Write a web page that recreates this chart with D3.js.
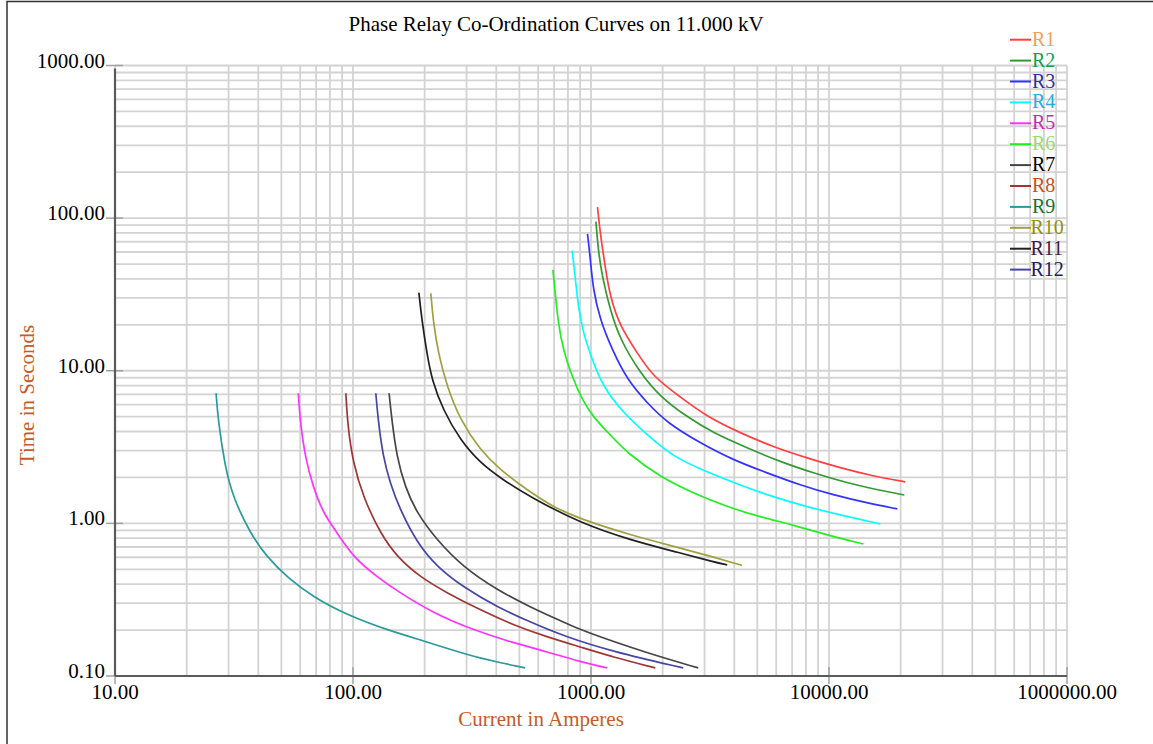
<!DOCTYPE html>
<html>
<head>
<meta charset="utf-8">
<script src="https://cdn.jsdelivr.net/npm/d3@7"></script>
<style>
  body { margin: 0; background: #fff; }
  svg { display: block; font-family: "Liberation Serif", "Times New Roman", serif; }
</style>
</head>
<body>
<svg width="1153" height="744"></svg>
<script>
// relay names, line colours, legend text colours
const relays = ["R1", "R2", "R3", "R4", "R5", "R6", "R7", "R8", "R9", "R10", "R11", "R12"]
const lineColors = ["#ff4040", "#339933", "#3333ff", "#00ffff", "#ff33ff", "#22ee22",
                    "#454545", "#a03535", "#2a9a9a", "#a0a040", "#202020", "#4545a5"]
const textColors = ["#f0a060", "#10a050", "#3030a0", "#20b0e0", "#c030b0", "#a0d870",
                    "#000000", "#c85020", "#207030", "#909010", "#401848", "#202060"]

// axis ticks
const xTicks = [10, 100, 1000, 10000, 100000]
const xTickLabels = ["10.00", "100.00", "1000.00", "10000.00", "1000000.00"]
const yTicks = [0.1, 1, 10, 100, 1000]
const yTickLabels = ["0.10", "1.00", "10.00", "100.00", "1000.00"]

// current (A) and time (s)
const r1I = [1065, 1093, 1147, 1204, 1327, 1564, 1826, 2371, 3079, 4239, 5833, 8104, 11155, 15360, 20930]
const r1T = [117.9, 80.0, 47.9, 30.4, 19.4, 13.08, 9.11, 6.74, 4.98, 3.91, 3.17, 2.68, 2.31, 2.04, 1.87]
const r2I = [1049, 1072, 1115, 1204, 1327, 1610, 1954, 2538, 3263, 4536, 6243, 8590, 11940, 15360, 20730]
const r2T = [94.9, 61.9, 41.2, 25.0, 15.9, 9.67, 6.74, 4.98, 3.91, 3.12, 2.53, 2.14, 1.84, 1.68, 1.535]
const r3I = [966.7, 992, 1021, 1093, 1228, 1420, 1723, 2091, 2877, 3960, 5504, 7574, 10420, 14490, 19370]
const r3T = [78.8, 55.7, 33.8, 21.5, 13.69, 8.70, 6.15, 4.55, 3.36, 2.60, 2.14, 1.78, 1.535, 1.36, 1.243]
const r4I = [833.7, 858.2, 883.5, 927.3, 1012, 1125, 1366, 1723, 2216, 3079, 4239, 5833, 8104, 11155, 16430]
const r4T = [61.2, 41.2, 26.2, 17.69, 11.77, 7.83, 5.29, 3.80, 2.72, 2.17, 1.78, 1.49, 1.281, 1.135, 0.991]
const r5I = [58.9, 59.9, 62.9, 68.0, 74.9, 85.8, 100.1, 126.3, 157.8, 217, 320, 471, 654, 901, 1167]
const r5T = [7.12, 4.76, 2.72, 1.73, 1.17, 0.865, 0.602, 0.445, 0.350, 0.259, 0.200, 0.165, 0.144, 0.124, 0.113]
const r6I = [691.6, 707.2, 728, 764, 833.7, 918.5, 1021, 1204, 1420, 1954, 2689, 3737, 5143, 7077, 9835, 13940]
const r6T = [45.8, 32.3, 20.6, 13.69, 9.11, 6.44, 4.98, 3.80, 2.89, 2.01, 1.582, 1.281, 1.101, 0.976, 0.839, 0.733]
const r7I = [141.8, 145.6, 152.8, 165.6, 185.4, 225.0, 290.2, 403.4, 555, 764, 901, 1723, 2822]
const r7T = [7.12, 4.76, 2.72, 1.73, 1.17, 0.778, 0.518, 0.366, 0.283, 0.226, 0.200, 0.141, 0.113]
const r8I = [93.3, 95.1, 100.1, 110.3, 130.0, 153.2, 191.4, 248.6, 342, 471, 654, 901, 1240, 1862]
const r8T = [7.12, 4.30, 2.49, 1.49, 0.865, 0.602, 0.445, 0.350, 0.271, 0.216, 0.180, 0.155, 0.133, 0.113]
const r9I = [26.6, 27.1, 29.0, 31.3, 36.9, 43.5, 52.8, 68.0, 94.5, 139, 211, 320, 529]
const r9T = [7.12, 4.76, 2.34, 1.49, 0.865, 0.602, 0.445, 0.329, 0.251, 0.200, 0.165, 0.133, 0.113]
const r10I = [212.3, 217, 227.9, 248.6, 282.0, 342, 415.2, 539.3, 693.6, 901, 1461, 2371, 3263, 4308]
const r10T = [32.2, 21.5, 13.08, 7.83, 4.76, 3.03, 2.24, 1.655, 1.281, 1.069, 0.839, 0.690, 0.602, 0.531]
const r11I = [189.1, 194.7, 204.3, 214.4, 239.1, 282.0, 342, 427.4, 555, 901, 1461, 2371, 3263, 3737]
const r11T = [32.5, 21.5, 13.08, 8.70, 5.53, 3.52, 2.49, 1.925, 1.49, 1.006, 0.778, 0.640, 0.559, 0.534]
const r12I = [124.7, 127.5, 133.8, 143.2, 157.8, 186.0, 225.7, 290.2, 403.4, 555, 764, 1240, 2441]
const r12T = [7.12, 4.76, 2.72, 1.84, 1.224, 0.744, 0.518, 0.383, 0.283, 0.226, 0.183, 0.144, 0.113]

const currents = [r1I, r2I, r3I, r4I, r5I, r6I, r7I, r8I, r9I, r10I, r11I, r12I]
const times = [r1T, r2T, r3T, r4T, r5T, r6T, r7T, r8T, r9T, r10T, r11T, r12T]

const series = relays.map((name, i) => {
  return { name: name, points: currents[i].map((c, j) => [c, times[i][j]]) }
})

const svg = d3.select("svg")

const x = d3.scaleLog().domain([10, 100000]).range([115, 1067])
const y = d3.scaleLog().domain([0.1, 1000]).range([676, 65.5])

// outer frame
svg.append("rect")
  .attr("x", 7).attr("y", 1.5)
  .attr("width", 1300).attr("height", 900)
  .attr("fill", "none")
  .attr("stroke", "#333")
  .attr("stroke-width", 1.5)

// grid: 1..9 in every decade
const xGrid = []
for (let p = 1; p <= 4; p++) for (let m = 1; m <= 9; m++) xGrid.push(m * Math.pow(10, p))
xGrid.push(100000)
const yGrid = []
for (let p = -1; p <= 2; p++) for (let m = 1; m <= 9; m++) yGrid.push(+(m * Math.pow(10, p)).toPrecision(3))
yGrid.push(1000)

const grid = svg.append("g").attr("stroke", "#d3d3d3").attr("stroke-width", 1.8)

grid.selectAll("line.v")
  .data(xGrid)
  .enter()
  .append("line")
  .attr("class", "v")
  .attr("x1", d => x(d)).attr("x2", d => x(d))
  .attr("y1", y(1000)).attr("y2", y(0.1))

grid.selectAll("line.h")
  .data(yGrid)
  .enter()
  .append("line")
  .attr("class", "h")
  .attr("x1", x(10)).attr("x2", x(100000))
  .attr("y1", d => y(d)).attr("y2", d => y(d))

// tick marks
svg.selectAll("line.xtick")
  .data(xTicks)
  .enter()
  .append("line")
  .attr("class", "xtick")
  .attr("x1", d => x(d)).attr("x2", d => x(d))
  .attr("y1", y(0.1) - 9).attr("y2", y(0.1) + 8)
  .attr("stroke", "#a0a0a0").attr("stroke-width", 1.5)

svg.selectAll("line.ytick")
  .data(yTicks)
  .enter()
  .append("line")
  .attr("class", "ytick")
  .attr("x1", x(10) - 9).attr("x2", x(10) + 8)
  .attr("y1", d => y(d)).attr("y2", d => y(d))
  .attr("stroke", "#a0a0a0").attr("stroke-width", 1.5)

// axis lines
svg.append("line")
  .attr("x1", x(10)).attr("x2", x(10))
  .attr("y1", y(1000) + 3).attr("y2", y(0.1))
  .attr("stroke", "#5a5a5a").attr("stroke-width", 2.2)
svg.append("line")
  .attr("x1", x(10)).attr("x2", x(100000))
  .attr("y1", y(0.1)).attr("y2", y(0.1))
  .attr("stroke", "#5a5a5a").attr("stroke-width", 2.2)

// tick labels
svg.selectAll("text.xlabel")
  .data(xTicks)
  .enter()
  .append("text")
  .attr("class", "xlabel")
  .attr("x", d => x(d))
  .attr("y", 699)
  .attr("text-anchor", "middle")
  .attr("font-size", 21)
  .text((d, i) => xTickLabels[i])

svg.selectAll("text.ylabel")
  .data(yTicks)
  .enter()
  .append("text")
  .attr("class", "ylabel")
  .attr("x", 105)
  .attr("y", d => y(d) + 2)
  .attr("text-anchor", "end")
  .attr("font-size", 21)
  .text((d, i) => yTickLabels[i])

// titles
svg.append("text")
  .attr("x", 556).attr("y", 31)
  .attr("text-anchor", "middle")
  .attr("font-size", 21)
  .text("Phase Relay Co-Ordination Curves on 11.000 kV")

svg.append("text")
  .attr("x", 541).attr("y", 726)
  .attr("text-anchor", "middle")
  .attr("font-size", 21)
  .attr("fill", "#c85a28")
  .text("Current in Amperes")

svg.append("text")
  .attr("transform", "translate(34, 395) rotate(-90)")
  .attr("text-anchor", "middle")
  .attr("font-size", 21)
  .attr("fill", "#c85a28")
  .text("Time in Seconds")

// curves
const line = d3.line()
  .x(d => x(d[0]))
  .y(d => y(d[1]))
  .curve(d3.curveBasis)

svg.selectAll("path.curve")
  .data(series)
  .enter()
  .append("path")
  .attr("class", "curve")
  .attr("d", d => line(d.points))
  .attr("fill", "none")
  .attr("stroke", (d, i) => lineColors[i])
  .attr("stroke-width", 1.7)

// legend
const legend = svg.selectAll("g.legend")
  .data(relays)
  .enter()
  .append("g")
  .attr("class", "legend")
  .attr("transform", (d, i) => `translate(1010, ${39.7 + i * 20.9})`)

legend.append("line")
  .attr("x1", 0).attr("x2", 21)
  .attr("y1", 0).attr("y2", 0)
  .attr("stroke", (d, i) => lineColors[i])
  .attr("stroke-width", 2)

legend.append("text")
  .attr("x", (d, i) => i >= 9 ? 20.5 : 22)
  .attr("y", 6)
  .attr("font-size", 20)
  .attr("fill", (d, i) => textColors[i])
  .text(d => d)
</script>
</body>
</html>
